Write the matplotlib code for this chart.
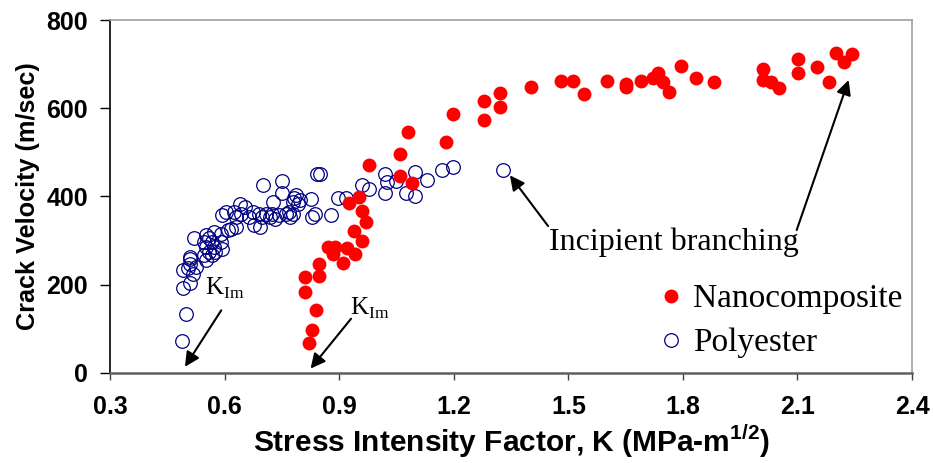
import numpy as np
import matplotlib
matplotlib.use('Agg')
import matplotlib.pyplot as plt

plt.rcParams['font.family'] = 'Liberation Sans'
plt.rcParams['mathtext.fontset'] = 'custom'
plt.rcParams['mathtext.rm'] = 'Liberation Serif'
plt.rcParams['mathtext.bf'] = 'Liberation Sans:bold'

# Nanocomposite (filled red)
nano_k = [0.822, 0.828, 0.839, 0.810, 0.810, 0.848, 0.848, 0.870, 0.889, 0.909,
          0.885, 0.920, 0.941, 0.959, 0.939, 0.970, 0.960, 0.926, 0.951, 1.091,
          1.060, 0.979, 1.059, 1.079, 1.180, 1.199, 1.280, 1.280, 1.321, 1.321,
          1.401, 1.482, 1.511, 1.541, 1.602, 1.652, 1.652, 1.691, 1.722, 1.735,
          1.748, 1.764, 1.794, 1.834, 1.881, 2.010, 2.010, 2.032, 2.052, 2.102,
          2.102, 2.152, 2.183, 2.202, 2.222, 2.243]
nano_v = [67, 97, 143, 184, 218, 220, 246, 286, 286, 249,
          270, 283, 269, 300, 322, 342, 367, 385, 398, 431,
          446, 471, 496, 546, 523, 587, 573, 617, 603, 634,
          649, 662, 662, 632, 662, 649, 655, 662, 668, 680,
          660, 637, 696, 668, 659, 690, 664, 660, 646, 711,
          679, 693, 660, 726, 705, 722]

# Polyester (open blue)
poly_k = [0.488, 0.500, 0.490, 0.490, 0.503, 0.508, 0.508, 0.510, 0.509, 0.517,
          0.525, 0.520, 0.546, 0.550, 0.559, 0.576, 0.567, 0.550, 0.571, 0.593,
          0.546, 0.567, 0.590, 0.559, 0.550, 0.571, 0.590, 0.608, 0.617, 0.629,
          0.676, 0.692, 0.593, 0.603, 0.624, 0.629, 0.642, 0.641, 0.654, 0.665,
          0.674, 0.691, 0.698, 0.708, 0.719, 0.725, 0.733, 0.743, 0.760, 0.768,
          0.727, 0.700, 0.749, 0.750, 0.781, 0.792, 0.788, 0.797, 0.780, 0.780,
          0.771, 0.837, 0.828, 0.878, 0.826, 0.841, 0.850, 0.897, 0.919, 0.959,
          0.979, 1.020, 1.024, 1.049, 1.020, 1.075, 1.099, 1.099, 1.129, 1.168,
          1.199, 1.330]
poly_v = [72, 134, 192, 233, 237, 248, 259, 264, 203, 225,
          240, 305, 267, 256, 274, 274, 267, 286, 286, 282,
          297, 297, 297, 305, 312, 320, 316, 324, 327, 331,
          335, 331, 358, 365, 365, 354, 361, 384, 377, 354,
          365, 361, 354, 361, 354, 361, 350, 358, 361, 365,
          388, 426, 435, 407, 396, 384, 403, 392, 388, 361,
          354, 361, 354, 359, 394, 450, 450, 397, 397, 426,
          418, 452, 433, 435, 407, 407, 402, 456, 437, 460,
          466, 461]

xticks = [0.3, 0.6, 0.9, 1.2, 1.5, 1.8, 2.1, 2.4]
yticks = [0, 200, 400, 600, 800]

fig = plt.figure(figsize=(9.33, 4.63), dpi=100)
ax = fig.add_axes([0.118, 0.1944, 0.8595, 0.7624])

ax.plot(poly_k, poly_v, 'o', ls='none', ms=9.8, mfc='none', mec='#000080',
        mew=0.9, label='Polyester', zorder=3)
ax.plot(nano_k, nano_v, 'o', ls='none', ms=10, mfc='#ff0000', mec='#ff0000',
        mew=0, label='Nanocomposite', zorder=4)

ax.set_xlim(0.3, 2.4)
ax.set_ylim(0, 800)
ax.set_xticks(xticks)
ax.set_xticklabels(['%.1f' % t for t in xticks])
ax.set_yticks(yticks)
ax.tick_params(axis='both', labelsize=18, direction='out')
ax.tick_params(axis='x', length=5, width=1, pad=11, color='#404040')
ax.tick_params(axis='y', length=7, width=1, pad=9)
for lbl in ax.get_xticklabels() + ax.get_yticklabels():
  lbl.set_fontweight('bold')

ax.spines['left'].set_color('black')
ax.spines['left'].set_linewidth(1.2)
ax.spines['bottom'].set_color('#606060')
ax.spines['bottom'].set_linewidth(1.8)
for s in ['top', 'right']:
  ax.spines[s].set_color('#a0a0a0')
  ax.spines[s].set_linewidth(1.2)

ax.set_ylabel('Crack Velocity (m/sec)', fontsize=18.2, fontweight='bold')
ax.set_xlabel(r'Stress Intensity Factor, K (MPa-m$^{\mathbf{1/2}}$)',
              fontsize=21.5, fontweight='bold')
ax.yaxis.set_label_coords(-0.087, 0.5)
ax.xaxis.set_label_coords(0.5, -0.14)

# annotations
arrow = dict(arrowstyle='-|>', color='black', lw=1.5, mutation_scale=22,
             shrinkA=0, shrinkB=0)
ax.annotate('', xy=(0.496, 14), xytext=(0.591, 142), arrowprops=arrow)
ax.annotate('', xy=(0.825, 10), xytext=(0.931, 123), arrowprops=arrow)
ax.text(0.601, 192, r'$\mathrm{K}_{\mathrm{Im}}$', fontsize=18, ha='center', va='center')
ax.text(0.981, 147, r'$\mathrm{K}_{\mathrm{Im}}$', fontsize=18, ha='center', va='center')

ax.annotate('', xy=(1.347, 448), xytext=(1.447, 333), arrowprops=arrow)
ax.annotate('', xy=(2.234, 664), xytext=(2.098, 324), arrowprops=arrow)
ax.text(1.776, 296, 'Incipient branching', family='Liberation Serif',
        fontsize=23, ha='center', va='center')

handles, labels = ax.get_legend_handles_labels()
leg = ax.legend(handles[::-1], labels[::-1], loc='upper left',
                bbox_to_anchor=(0.66, 0.29), frameon=False,
                prop={'family': 'Liberation Serif', 'size': 24},
                handletextpad=0.1, labelspacing=0.4, handlelength=1.1,
                borderaxespad=0)

fig.savefig('out.png', dpi=100)
